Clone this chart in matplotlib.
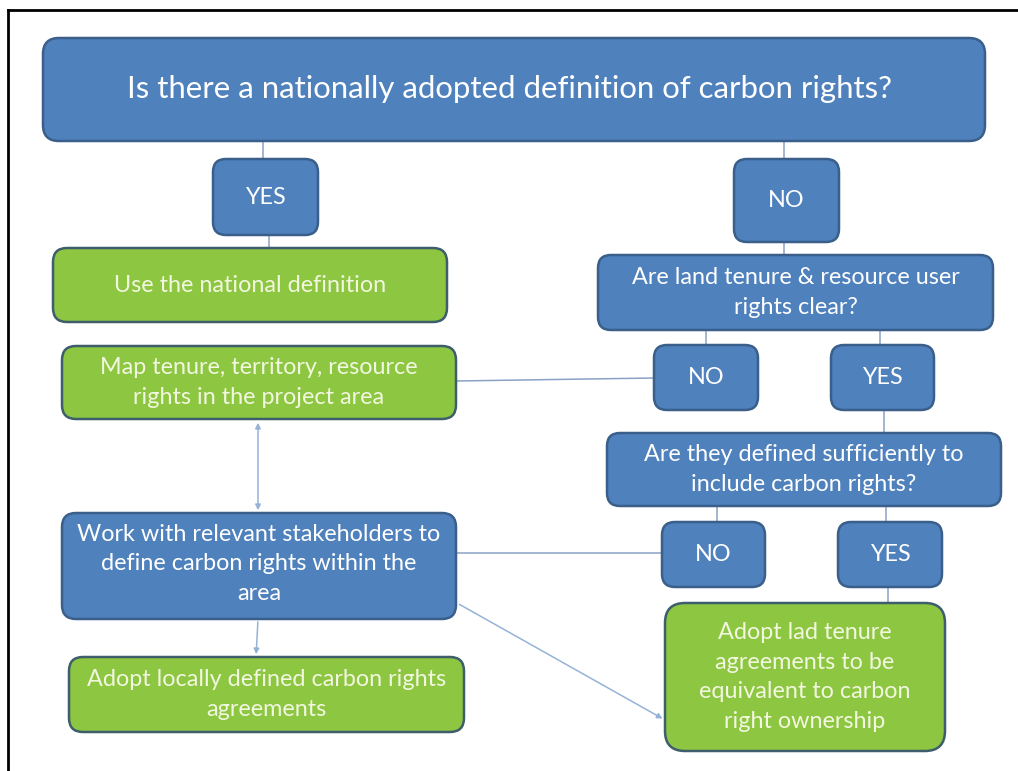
import matplotlib
matplotlib.use("Agg")
import matplotlib.pyplot as plt
from matplotlib.patches import FancyBboxPatch, FancyArrowPatch
from matplotlib.lines import Line2D

# ---------------- data: texts of the flowchart ----------------
title_text = "Is there a nationally adopted definition of carbon rights?"
answer_labels = ["YES", "NO", "NO", "YES", "NO", "YES"]
question_texts = ["Are land tenure & resource user\nrights clear?",
                  "Are they defined sufficiently to\ninclude carbon rights?"]
action_texts = ["Use the national definition",
                "Map tenure, territory, resource\nrights in the project area",
                "Adopt locally defined carbon rights\nagreements",
                "Adopt lad tenure\nagreements to be\nequivalent to carbon\nright ownership"]
work_text = "Work with relevant stakeholders to\ndefine carbon rights within the\narea"

# ---------------- layout (pixel coordinates) ----------------
W, H = 1018, 771
BLUE, BLUE_EDGE = "#4F81BD", "#3A5F8B"
GREEN, GREEN_EDGE = "#8DC641", "#3D5E6A"
LINE = "#8AA2C4"

fig = plt.figure(figsize=(W / 100, H / 100), dpi=100)
ax = fig.add_axes([0, 0, 1, 1])
ax.set_xlim(0, W)
ax.set_ylim(H, 0)
ax.axis("off")
FONT = "Lato"


def box(x0, y0, x1, y1, fc, ec, r=12):
    p = FancyBboxPatch((x0, y0), x1 - x0, y1 - y0,
                       boxstyle=f"round,pad=0,rounding_size={r}",
                       fc=fc, ec=ec, lw=1.8, zorder=3)
    ax.add_patch(p)


def label(x, y, s, size, color="white", ls=1.5):
    ax.text(x, y, s, ha="center", va="center", fontsize=size, color=color,
            family=FONT, linespacing=ls, zorder=4)


def seg(x0, y0, x1, y1):
    ax.add_line(Line2D([x0, x1], [y0, y1], color=LINE, lw=1.1, zorder=2))


def arrow(x0, y0, x1, y1, both=False):
    a = FancyArrowPatch((x0, y0), (x1, y1),
                        arrowstyle="<|-|>" if both else "-|>",
                        mutation_scale=8, color="#95B3D7", lw=1.1, zorder=2)
    ax.add_patch(a)


BODY = 16.8
TITLE = 22.4
GTXT = "#F2F7DF"

# outer frame (left and top lines)
ax.add_line(Line2D([8, 8], [10, H], color="black", lw=2))
ax.add_line(Line2D([8, W], [10, 10], color="black", lw=2))

# connectors
seg(263, 142, 263, 159); seg(269, 235, 269, 248)
seg(784, 142, 784, 159); seg(784, 242, 784, 255)
seg(706, 330, 706, 345); seg(880, 330, 880, 345)
seg(884, 410, 884, 433)
seg(456, 381, 654, 378)
seg(717, 506, 717, 522); seg(886, 506, 886, 522)
seg(888, 587, 888, 603)
seg(455, 553, 662, 553)
arrow(258, 513, 258, 420, both=True)
arrow(258, 619, 256, 657)
arrow(457, 603, 665, 720)

# title box
box(43, 38, 985, 141, BLUE, BLUE_EDGE, r=16)
label(510, 89, title_text, TITLE)

# answer boxes
ans_boxes = [(213, 159, 318, 235), (734, 159, 839, 242),
             (654, 345, 758, 410), (831, 345, 934, 410),
             (662, 522, 765, 587), (838, 522, 942, 587)]
for (x0, y0, x1, y1), t in zip(ans_boxes, answer_labels):
    box(x0, y0, x1, y1, BLUE, BLUE_EDGE, r=13)
    label((x0 + x1) / 2, (y0 + y1) / 2, t, BODY)

# question boxes
q_boxes = [(598, 255, 993, 330), (607, 433, 1001, 506)]
for (x0, y0, x1, y1), t in zip(q_boxes, question_texts):
    box(x0, y0, x1, y1, BLUE, BLUE_EDGE, r=13)
    label((x0 + x1) / 2, (y0 + y1) / 2, t, BODY)

# work box
box(62, 513, 456, 619, BLUE, BLUE_EDGE, r=14)
label(259, 564, work_text, BODY)

# green action boxes
g_boxes = [(53, 248, 447, 322), (62, 346, 456, 419),
           (69, 657, 464, 732), (665, 603, 945, 751)]
for (x0, y0, x1, y1), t in zip(g_boxes, action_texts):
    box(x0, y0, x1, y1, GREEN, GREEN_EDGE, r=14 if y1 - y0 < 100 else 20)
    label((x0 + x1) / 2, (y0 + y1) / 2, t, BODY, color=GTXT)

fig.savefig("out.png", dpi=100, facecolor="white")
